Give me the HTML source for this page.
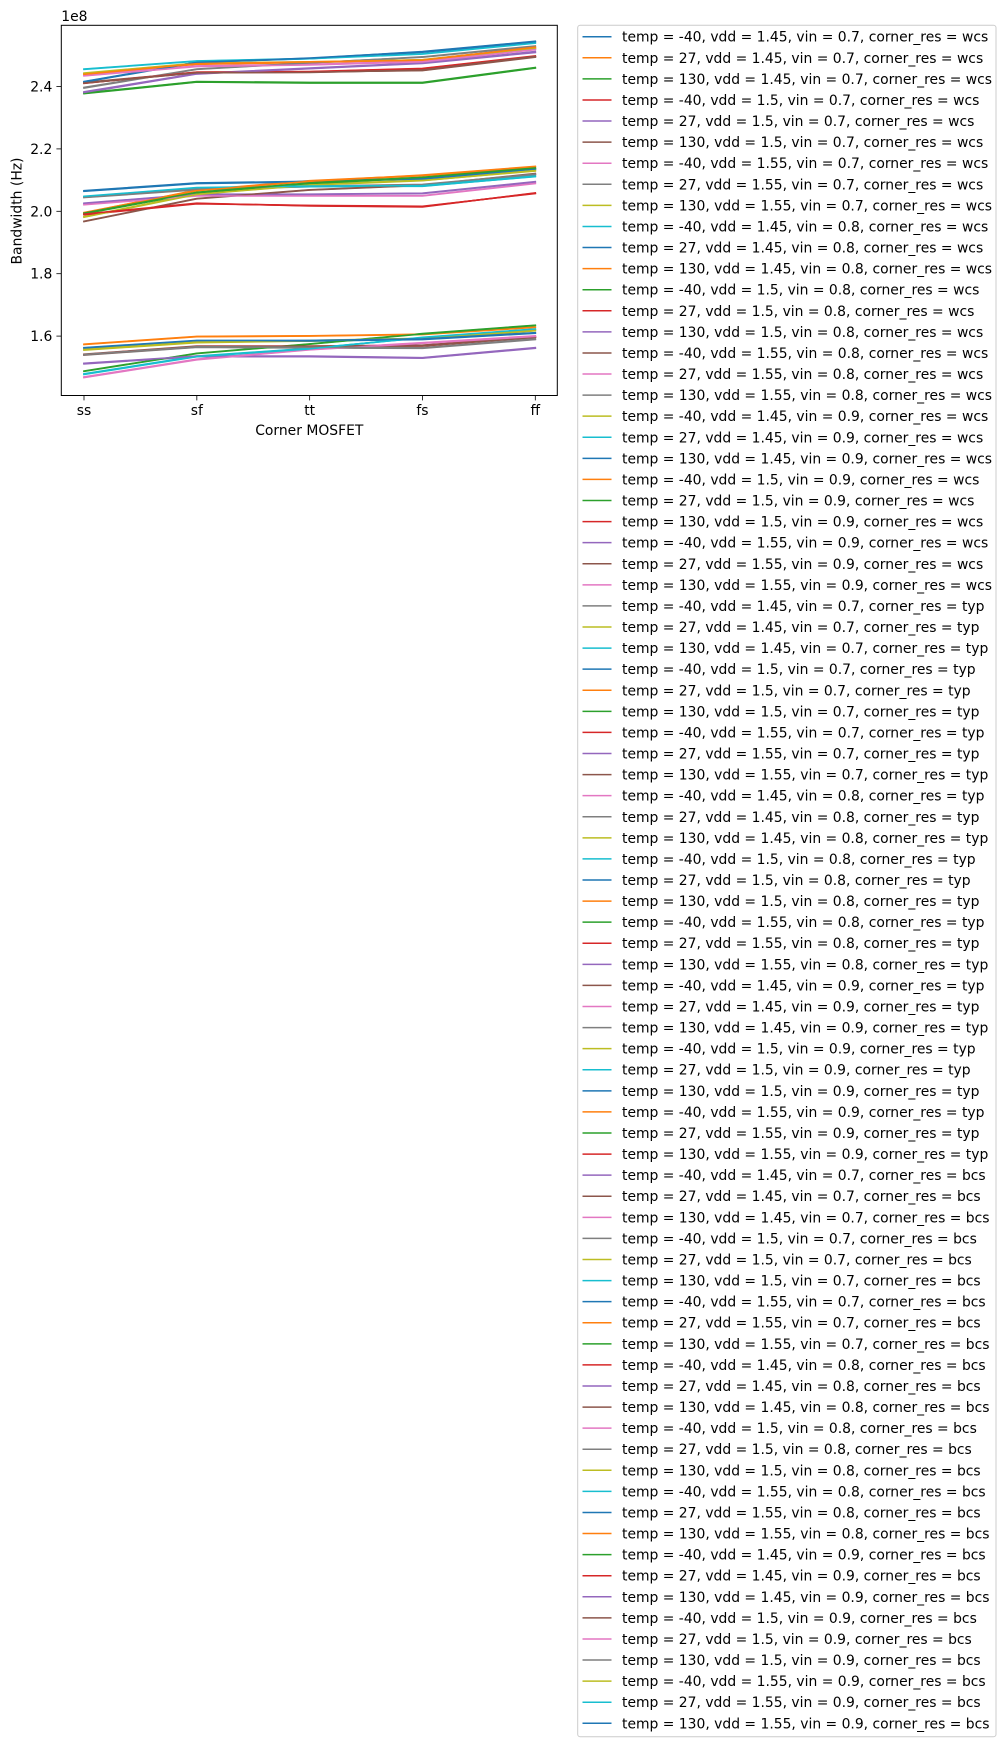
<!DOCTYPE html>
<html><head><meta charset="utf-8"><style>
html,body{margin:0;padding:0;background:#fff;}
svg{display:block;font-family:"DejaVu Sans","Liberation Sans",sans-serif;}
</style></head><body>
<svg id="chart" width="1006" height="1747" viewBox="0 0 1006 1747" xmlns="http://www.w3.org/2000/svg">
<rect width="1006" height="1747" fill="#fff"/>
<g id="plot"></g>
<g id="axes"></g>
<g id="legend"></g>
</svg>
<script>
const categories = ["ss","sf","tt","fs","ff"];
const yTicks = [1.6,1.8,2.0,2.2,2.4];
const temps = ["-40","27","130"];
const vdds = ["1.45","1.5","1.55"];
const vins = ["0.7","0.8","0.9"];
const corners = ["wcs","typ","bcs"];
const palette = ["#1f77b4","#ff7f0e","#2ca02c","#d62728","#9467bd","#8c564b","#e377c2","#7f7f7f","#bcbd22","#17becf"];
const seriesWcs = [
[2.415,2.478,2.490,2.512,2.545],[2.440,2.472,2.478,2.485,2.525],[2.378,2.415,2.412,2.412,2.460],
[2.412,2.445,2.447,2.457,2.497],[2.380,2.440,2.458,2.475,2.510],[2.412,2.445,2.446,2.452,2.495],
[2.435,2.465,2.470,2.480,2.520],[2.395,2.455,2.475,2.495,2.530],[2.442,2.474,2.478,2.484,2.522],
[2.456,2.482,2.490,2.505,2.540],[2.416,2.478,2.489,2.510,2.543],[2.441,2.471,2.477,2.486,2.524],
[2.379,2.416,2.413,2.413,2.461],[2.411,2.444,2.446,2.456,2.496],[2.383,2.442,2.459,2.476,2.512],
[2.413,2.446,2.447,2.451,2.494],[2.436,2.466,2.471,2.481,2.519],[2.397,2.456,2.476,2.494,2.528],
[2.443,2.475,2.479,2.485,2.523],[2.455,2.481,2.489,2.504,2.539],[2.414,2.477,2.491,2.511,2.544],
[2.439,2.473,2.479,2.484,2.526],[2.377,2.414,2.411,2.411,2.459],[2.410,2.446,2.448,2.458,2.498],
[2.381,2.441,2.457,2.474,2.509],[2.411,2.444,2.445,2.453,2.496],[2.434,2.464,2.469,2.479,2.518]];
const seriesTyp = [
[2.045,2.070,2.080,2.085,2.118],[1.982,2.055,2.085,2.100,2.130],[2.047,2.075,2.080,2.080,2.112],
[2.065,2.090,2.095,2.105,2.135],[1.995,2.068,2.098,2.115,2.143],[1.993,2.060,2.090,2.108,2.138],
[1.990,2.025,2.018,2.015,2.058],[2.026,2.055,2.055,2.058,2.095],[1.967,2.040,2.068,2.083,2.120],
[2.022,2.050,2.050,2.050,2.090],[2.044,2.069,2.079,2.084,2.117],[1.983,2.056,2.086,2.099,2.129],
[2.046,2.074,2.079,2.081,2.111],[2.064,2.089,2.094,2.104,2.134],[1.996,2.067,2.097,2.114,2.142],
[1.992,2.059,2.089,2.107,2.137],[1.989,2.024,2.019,2.016,2.057],[2.025,2.054,2.054,2.057,2.094],
[1.968,2.041,2.069,2.084,2.121],[2.021,2.049,2.049,2.049,2.089],[2.045,2.071,2.081,2.086,2.119],
[1.981,2.054,2.084,2.098,2.131],[2.048,2.076,2.081,2.082,2.113],[2.066,2.091,2.096,2.106,2.136],
[1.994,2.066,2.096,2.116,2.144],[1.994,2.061,2.091,2.109,2.139],[1.991,2.026,2.017,2.014,2.059]];
const seriesBcs = [
[1.512,1.535,1.535,1.530,1.562],[1.541,1.567,1.567,1.570,1.597],[1.468,1.525,1.557,1.578,1.600],
[1.540,1.565,1.563,1.562,1.590],[1.556,1.580,1.585,1.592,1.618],[1.478,1.535,1.560,1.595,1.622],
[1.562,1.585,1.585,1.590,1.610],[1.573,1.598,1.600,1.605,1.628],[1.488,1.545,1.575,1.608,1.635],
[1.540,1.566,1.566,1.568,1.596],[1.511,1.534,1.534,1.529,1.561],[1.542,1.568,1.568,1.571,1.598],
[1.469,1.526,1.558,1.579,1.601],[1.539,1.564,1.562,1.561,1.589],[1.555,1.579,1.584,1.591,1.617],
[1.479,1.536,1.561,1.594,1.621],[1.561,1.584,1.584,1.589,1.609],[1.574,1.599,1.601,1.606,1.629],
[1.487,1.544,1.574,1.607,1.634],[1.541,1.567,1.567,1.569,1.597],[1.513,1.536,1.536,1.531,1.563],
[1.540,1.566,1.566,1.569,1.596],[1.467,1.524,1.556,1.577,1.599],[1.541,1.566,1.564,1.563,1.591],
[1.557,1.581,1.586,1.593,1.619],[1.477,1.534,1.559,1.596,1.623],[1.563,1.586,1.586,1.591,1.611]];

const NS="http://www.w3.org/2000/svg";
const box={l:61.3,t:25.3,r:557.3,b:395.5};
const xOf=i=>84.0+i*(535.3-84.0)/(categories.length-1);
const yOf=v=>211.3-(v-2.0)*312;
function mk(tag,attrs,parent){const e=document.createElementNS(NS,tag);for(const k in attrs)e.setAttribute(k,attrs[k]);parent.appendChild(e);return e;}
const plot=document.getElementById('plot'),axes=document.getElementById('axes'),leg=document.getElementById('legend');
const allSeries=seriesWcs.concat(seriesTyp,seriesBcs);
const labels=[];
corners.forEach(c=>vins.forEach(vi=>vdds.forEach(vd=>temps.forEach(t=>labels.push(`temp = ${t}, vdd = ${vd}, vin = ${vi}, corner_res = ${c}`)))));
allSeries.forEach((s,k)=>{
  const pts=s.map((v,i)=>xOf(i).toFixed(2)+','+yOf(v).toFixed(2)).join(' ');
  const pl=mk('polyline',{points:pts,fill:'none',stroke:palette[k%10],'stroke-width':1.6,'stroke-linejoin':'round','stroke-linecap':'square'},plot);
  
  
});
const frame=mk('rect',{x:box.l,y:box.t,width:box.r-box.l,height:box.b-box.t,fill:'none',stroke:'#000','stroke-width':1},axes);


categories.forEach((c,i)=>{
  const x=xOf(i);
  mk('line',{x1:x,x2:x,y1:box.b,y2:box.b+4.9,stroke:'#000','stroke-width':0.8},axes);
  const t=mk('text',{x:x,y:415,'font-size':13.9,'text-anchor':'middle',fill:'#000'},axes);
  t.textContent=c;
  
  
});
yTicks.forEach(v=>{
  const y=yOf(v);
  mk('line',{x1:box.l-4.9,x2:box.l,y1:y,y2:y,stroke:'#000','stroke-width':0.8},axes);
  const t=mk('text',{x:box.l-9,y:y+5,'font-size':13.9,'text-anchor':'end',fill:'#000'},axes);
  t.textContent=v.toFixed(1);
  
  
});
const off=mk('text',{x:box.l,y:21,'font-size':13.9,fill:'#000'},axes);off.textContent='1e8';


const xl=mk('text',{x:(box.l+box.r)/2,y:435,'font-size':13.9,'text-anchor':'middle',fill:'#000'},axes);xl.textContent='Corner MOSFET';


const yl=mk('text',{x:0,y:0,'font-size':13.9,'text-anchor':'middle',fill:'#000',transform:'translate(21.5,211) rotate(-90)'},axes);yl.textContent='Bandwidth (Hz)';


const lb=mk('rect',{x:577.7,y:25.3,width:418.3,height:1711.4,rx:2.5,fill:'#fff','fill-opacity':0.8,stroke:'#cccccc','stroke-width':1},leg);


const step=(1723.3-36.7)/(labels.length-1);
labels.forEach((lab,k)=>{
  const y=36.7+k*step;
  const g=mk('g',{},leg);
  
  
  mk('line',{x1:582.5,x2:611.5,y1:y,y2:y,stroke:palette[k%10],'stroke-width':1.5},g);
  const t=mk('text',{x:622,y:y+5,'font-size':13.9,fill:'#000'},g);t.textContent=lab;
});
</script>
</body></html>
